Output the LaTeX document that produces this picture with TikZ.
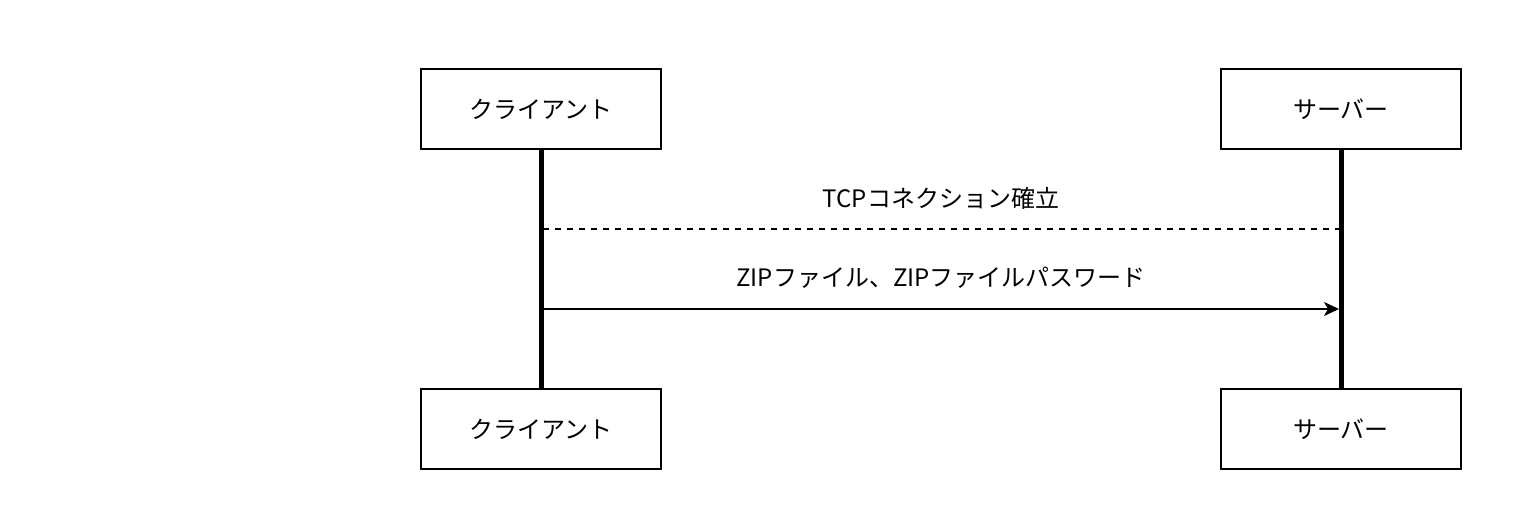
\documentclass[tikz,border=0pt]{standalone}
\usepackage{fontspec}
\setmainfont{Noto Sans CJK JP}
\usetikzlibrary{arrows.meta}
\begin{document}
\begin{tikzpicture}[x=0.5pt,y=-0.5pt,
    actor/.style={draw,line width=1pt,minimum width=120pt,minimum height=40pt,
      inner sep=0pt,font=\fontsize{12pt}{14pt}\selectfont},
    life/.style={line width=2.5pt},
    msg/.style={line width=1pt},
    reply/.style={msg,dash pattern=on 3pt off 3pt},
    lbl/.style={font=\fontsize{12pt}{14pt}\selectfont}]
  \useasboundingbox (0,0) rectangle (1522,530);
  % lifelines
  \foreach \n/\x/\t in {client/541/クライアント,server/1341/サーバー}{
    \node[actor] (\n top) at (\x,109) {\t};
    \node[actor] (\n bot) at (\x,429) {\t};
    \draw[life] (\n top) -- (\n bot);
  }
  % messages
  \coordinate (c1) at (543,229);
  \coordinate (s1) at (1339,229);
  \coordinate (c2) at (543,309);
  \coordinate (s2) at (1339,309);
  \node[lbl] (tcp) at (941,198) {TCPコネクション確立};
  \node[lbl] (zip) at (941,278) {ZIPファイル、ZIPファイルパスワード};
  \draw[reply] (c1) -- (s1);
  \draw[msg,-{Stealth[length=7.5pt,width=7pt,inset=2pt]}] (c2) -- (s2);
\end{tikzpicture}
\end{document}
